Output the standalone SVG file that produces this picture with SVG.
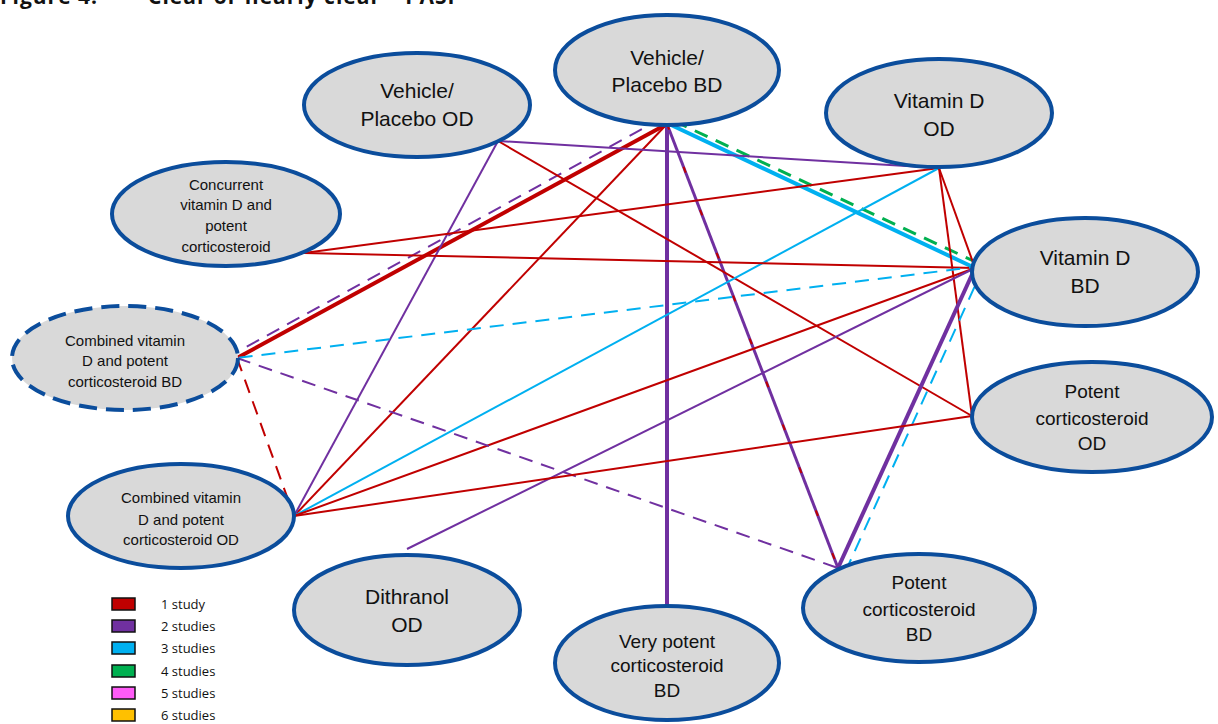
<svg xmlns="http://www.w3.org/2000/svg" width="1218" height="724" viewBox="0 0 1218 724">
  <style>
    .node { fill: #D9D9D9; stroke: #0B4D9C; stroke-width: 4; }
    .dashed { stroke-dasharray: 18 9; }
    .lbl { font-family: "Liberation Sans", Arial, sans-serif; fill: #111; text-anchor: middle; }
    .big { font-size: 21px; }
    .mid { font-size: 19px; }
    .sm { font-size: 15px; }
    .c1 { stroke: #C00000; }
    .c2 { stroke: #7030A0; }
    .c3 { stroke: #00B0F0; }
    .c4 { stroke: #00B050; }
    .dash { stroke-dasharray: 14 9; }
    .leg { font-family: "Open Sans", "Liberation Sans", sans-serif; font-size: 13px; fill: #111; }
    .sw { stroke: #111; stroke-width: 1.5; }
    .title { font-family: "Open Sans", "Liberation Sans", sans-serif; font-size: 21px; font-weight: bold; fill: #111; letter-spacing: 1px; }
  </style>
  <rect width="1218" height="724" fill="#FFFFFF"/>

  <g id="title">
    <text class="title" x="0" y="4">Figure 4:</text>
    <text class="title" x="148" y="4">Clear or nearly clear – PASI</text>
  </g>

  <!-- connectors -->
  <g id="connectors" fill="none" stroke-width="2">
    <!-- Vehicle/Placebo BD -->
    <line class="c1" x1="667" y1="124" x2="237" y2="358" stroke-width="4"/>
    <line class="c2 dash" x1="662" y1="118" x2="228" y2="357"/>
    <line class="c1" x1="667" y1="124" x2="294" y2="516"/>
    <line class="c2" x1="667" y1="124" x2="667" y2="607" stroke-width="4"/>
    <line class="c2" x1="667" y1="124" x2="838" y2="568" stroke-width="3"/>
    <line class="c1" x1="667" y1="124" x2="838" y2="568" stroke-width="2" stroke-dasharray="6 40"/>
    <line class="c3" x1="669" y1="124" x2="975" y2="268" stroke-width="4"/>
    <line class="c4 dash" x1="674" y1="121" x2="980" y2="264" stroke-width="3"/>
    <!-- Vehicle/Placebo OD -->
    <line class="c2" x1="498" y1="141" x2="294" y2="516"/>
    <line class="c2" x1="498" y1="141" x2="939" y2="168"/>
    <line class="c1" x1="498" y1="141" x2="972" y2="416"/>
    <!-- Vitamin D OD -->
    <line class="c1" x1="939" y1="168" x2="304" y2="253"/>
    <line class="c3" x1="939" y1="168" x2="294" y2="516"/>
    <line class="c1" x1="939" y1="168" x2="975" y2="268"/>
    <line class="c1" x1="939" y1="168" x2="972" y2="416"/>
    <!-- Concurrent -->
    <line class="c1" x1="304" y1="253" x2="975" y2="268"/>
    <!-- Vitamin D BD -->
    <line class="c3 dash" x1="983" y1="266" x2="237" y2="358"/>
    <line class="c1" x1="975" y1="268" x2="294" y2="516"/>
    <line class="c2" x1="975" y1="268" x2="407" y2="549"/>
    <line class="c2" x1="975" y1="268" x2="838" y2="568" stroke-width="4"/>
    <line class="c3 dash" x1="984" y1="266" x2="848" y2="566"/>
    <!-- Combined BD -->
    <line class="c2 dash" x1="237" y1="358" x2="838" y2="568"/>
    <line class="c1 dash" x1="237" y1="358" x2="294" y2="516"/>
    <!-- Combined OD -->
    <line class="c1" x1="294" y1="516" x2="972" y2="416"/>
  </g>

  <!-- nodes -->
  <g id="n-vp-bd"><ellipse class="node" cx="667" cy="70" rx="112" ry="55"/>
    <text class="lbl big" x="667" y="65">Vehicle/</text><text class="lbl big" x="667" y="92">Placebo BD</text></g>
  <g id="n-vp-od"><ellipse class="node" cx="417" cy="105" rx="113" ry="52"/>
    <text class="lbl big" x="417" y="98">Vehicle/</text><text class="lbl big" x="417" y="126">Placebo OD</text></g>
  <g id="n-vitd-od"><ellipse class="node" cx="939" cy="113" rx="113" ry="54"/>
    <text class="lbl big" x="939" y="108">Vitamin D</text><text class="lbl big" x="939" y="136">OD</text></g>
  <g id="n-concurrent"><ellipse class="node" cx="226" cy="214" rx="114" ry="52"/>
    <text class="lbl sm" x="226" y="190">Concurrent</text><text class="lbl sm" x="226" y="210">vitamin D and</text>
    <text class="lbl sm" x="226" y="231">potent</text><text class="lbl sm" x="226" y="252">corticosteroid</text></g>
  <g id="n-vitd-bd"><ellipse class="node" cx="1085" cy="272" rx="113" ry="54"/>
    <text class="lbl big" x="1085" y="265">Vitamin D</text><text class="lbl big" x="1085" y="293">BD</text></g>
  <g id="n-comb-bd"><ellipse class="node dashed" cx="125" cy="358" rx="113" ry="52"/>
    <text class="lbl sm" x="125" y="346">Combined vitamin</text><text class="lbl sm" x="125" y="366">D and potent</text>
    <text class="lbl sm" x="125" y="387">corticosteroid BD</text></g>
  <g id="n-pot-od"><ellipse class="node" cx="1092" cy="417" rx="120" ry="55"/>
    <text class="lbl mid" x="1092" y="398">Potent</text><text class="lbl mid" x="1092" y="425">corticosteroid</text>
    <text class="lbl mid" x="1092" y="450">OD</text></g>
  <g id="n-comb-od"><ellipse class="node" cx="181" cy="516" rx="113" ry="52"/>
    <text class="lbl sm" x="181" y="503">Combined vitamin</text><text class="lbl sm" x="181" y="525">D and potent</text>
    <text class="lbl sm" x="181" y="545">corticosteroid OD</text></g>
  <g id="n-dithranol"><ellipse class="node" cx="407" cy="610" rx="113" ry="55"/>
    <text class="lbl big" x="407" y="604">Dithranol</text><text class="lbl big" x="407" y="632">OD</text></g>
  <g id="n-vpc-bd"><ellipse class="node" cx="667" cy="663" rx="112" ry="57"/>
    <text class="lbl mid" x="667" y="648">Very potent</text><text class="lbl mid" x="667" y="672">corticosteroid</text>
    <text class="lbl mid" x="667" y="697">BD</text></g>
  <g id="n-pot-bd"><ellipse class="node" cx="919" cy="608" rx="116" ry="54"/>
    <text class="lbl mid" x="919" y="589">Potent</text><text class="lbl mid" x="919" y="616">corticosteroid</text>
    <text class="lbl mid" x="919" y="641">BD</text></g>

  <!-- legend -->
  <g id="legend">
    <rect class="sw" x="112" y="598" width="23" height="12" fill="#C00000"/>
    <text class="leg" x="161" y="609">1 study</text>
    <rect class="sw" x="112" y="620" width="23" height="12" fill="#7030A0"/>
    <text class="leg" x="161" y="631">2 studies</text>
    <rect class="sw" x="112" y="642" width="23" height="12" fill="#00B0F0"/>
    <text class="leg" x="161" y="653">3 studies</text>
    <rect class="sw" x="112" y="665" width="23" height="12" fill="#00B050"/>
    <text class="leg" x="161" y="676">4 studies</text>
    <rect class="sw" x="112" y="687" width="23" height="12" fill="#FF5BF7"/>
    <text class="leg" x="161" y="698">5 studies</text>
    <rect class="sw" x="112" y="709" width="23" height="12" fill="#FFC000"/>
    <text class="leg" x="161" y="720">6 studies</text>
  </g>
</svg>
